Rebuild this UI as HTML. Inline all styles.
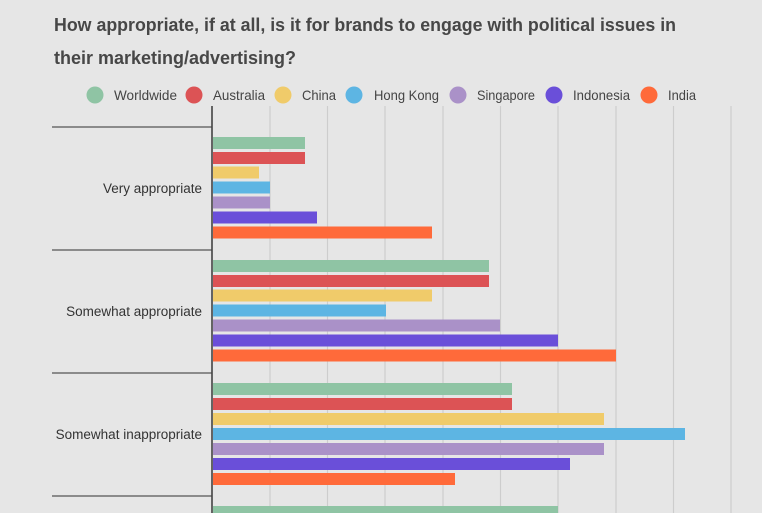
<!DOCTYPE html>
<html><head><style>
body{margin:0;width:762px;height:513px;overflow:hidden;background:#e6e6e6;font-family:"Liberation Sans",sans-serif;}
</style></head><body>
<svg width="762" height="513" xmlns="http://www.w3.org/2000/svg" style="position:absolute;left:0;top:0">
<rect width="762" height="513" fill="#e6e6e6"/>
<text x="54" y="31" font-size="18.5" font-weight="bold" fill="#474747" font-family="Liberation Sans, sans-serif" textLength="622" lengthAdjust="spacingAndGlyphs">How appropriate, if at all, is it for brands to engage with political issues in</text>
<text x="54" y="64" font-size="18.5" font-weight="bold" fill="#474747" font-family="Liberation Sans, sans-serif" textLength="242" lengthAdjust="spacingAndGlyphs">their marketing/advertising?</text>
<g font-size="14" fill="#444" font-family="Liberation Sans, sans-serif">
<circle cx="95" cy="95" r="8.5" fill="#8fc4a4"/><text x="114" y="100" textLength="63" lengthAdjust="spacingAndGlyphs">Worldwide</text>
<circle cx="194" cy="95" r="8.5" fill="#dc5355"/><text x="213" y="100" textLength="52" lengthAdjust="spacingAndGlyphs">Australia</text>
<circle cx="283" cy="95" r="8.5" fill="#f0cb6a"/><text x="302" y="100" textLength="34" lengthAdjust="spacingAndGlyphs">China</text>
<circle cx="354" cy="95" r="8.5" fill="#5db5e3"/><text x="374" y="100" textLength="65" lengthAdjust="spacingAndGlyphs">Hong Kong</text>
<circle cx="458" cy="95" r="8.5" fill="#aa91c8"/><text x="477" y="100" textLength="58" lengthAdjust="spacingAndGlyphs">Singapore</text>
<circle cx="554" cy="95" r="8.5" fill="#6a4fd9"/><text x="573" y="100" textLength="57" lengthAdjust="spacingAndGlyphs">Indonesia</text>
<circle cx="649" cy="95" r="8.5" fill="#ff6a3a"/><text x="668" y="100" textLength="28" lengthAdjust="spacingAndGlyphs">India</text>
</g>
<g stroke="#cdcdcd" stroke-width="1.2">
<line x1="270" y1="106" x2="270" y2="513"/><line x1="327.5" y1="106" x2="327.5" y2="513"/>
<line x1="385" y1="106" x2="385" y2="513"/><line x1="443" y1="106" x2="443" y2="513"/>
<line x1="500.5" y1="106" x2="500.5" y2="513"/><line x1="558" y1="106" x2="558" y2="513"/>
<line x1="616" y1="106" x2="616" y2="513"/><line x1="673.5" y1="106" x2="673.5" y2="513"/>
<line x1="731" y1="106" x2="731" y2="513"/>
</g>
<g stroke="#555" stroke-width="1.3">
<line x1="52" y1="127" x2="212" y2="127"/><line x1="52" y1="250" x2="212" y2="250"/>
<line x1="52" y1="373" x2="212" y2="373"/><line x1="52" y1="496" x2="212" y2="496"/>
</g>
<g>
<rect x="213" y="137" width="92" height="12" fill="#8fc4a4"/>
<rect x="213" y="152" width="92" height="12" fill="#dc5355"/>
<rect x="213" y="166.5" width="46" height="12" fill="#f0cb6a"/>
<rect x="213" y="181.5" width="57" height="12" fill="#5db5e3"/>
<rect x="213" y="196.5" width="57" height="12" fill="#aa91c8"/>
<rect x="213" y="211.5" width="104" height="12" fill="#6a4fd9"/>
<rect x="213" y="226.5" width="219" height="12" fill="#ff6a3a"/>

<rect x="213" y="260" width="276" height="12" fill="#8fc4a4"/>
<rect x="213" y="275" width="276" height="12" fill="#dc5355"/>
<rect x="213" y="289.5" width="219" height="12" fill="#f0cb6a"/>
<rect x="213" y="304.5" width="173" height="12" fill="#5db5e3"/>
<rect x="213" y="319.5" width="287" height="12" fill="#aa91c8"/>
<rect x="213" y="334.5" width="345" height="12" fill="#6a4fd9"/>
<rect x="213" y="349.5" width="403" height="12" fill="#ff6a3a"/>

<rect x="213" y="383" width="299" height="12" fill="#8fc4a4"/>
<rect x="213" y="398" width="299" height="12" fill="#dc5355"/>
<rect x="213" y="413" width="391" height="12" fill="#f0cb6a"/>
<rect x="213" y="428" width="472" height="12" fill="#5db5e3"/>
<rect x="213" y="443" width="391" height="12" fill="#aa91c8"/>
<rect x="213" y="458" width="357" height="12" fill="#6a4fd9"/>
<rect x="213" y="473" width="242" height="12" fill="#ff6a3a"/>

<rect x="213" y="506" width="345" height="12" fill="#8fc4a4"/>
</g>
<line x1="212" y1="106" x2="212" y2="513" stroke="#444" stroke-width="1.6"/>
<g font-size="13.5" fill="#333" text-anchor="end" font-family="Liberation Sans, sans-serif">
<text x="202" y="193">Very appropriate</text>
<text x="202" y="316">Somewhat appropriate</text>
<text x="202" y="439">Somewhat inappropriate</text>
</g>
</svg>
</body></html>
